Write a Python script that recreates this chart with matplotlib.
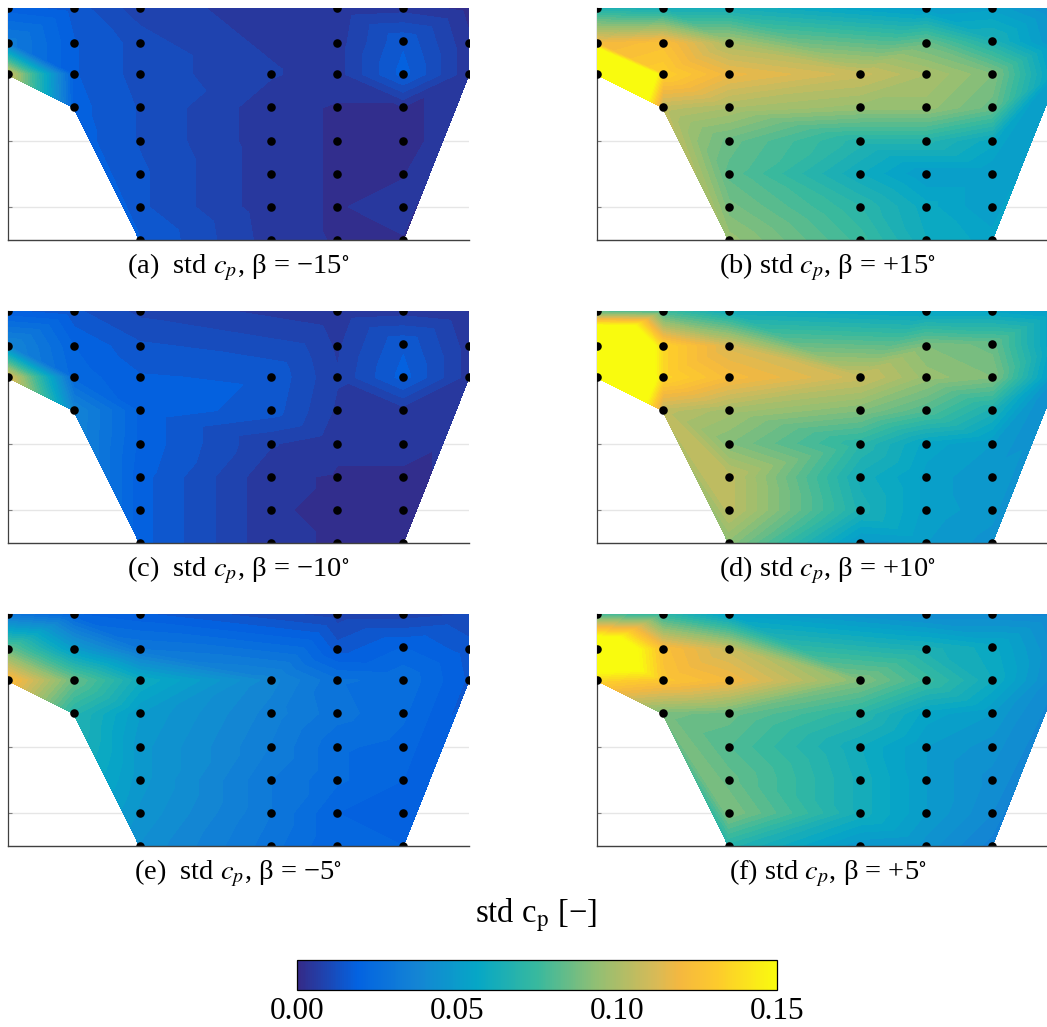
import numpy as np
import matplotlib
matplotlib.use("Agg")
import matplotlib.pyplot as plt
import matplotlib.tri as mtri
from matplotlib.path import Path
from matplotlib.colors import LinearSegmentedColormap, Normalize
from matplotlib.cm import ScalarMappable

W, H = 1047, 1027
plt.rcParams['font.family'] = ['Liberation Serif', 'DejaVu Serif']
plt.rcParams['mathtext.fontset'] = 'stix'

# sensor rows by column
col_x = [0, 1, 2, 4, 5, 6, 7]
col_y = [
    [7, 5.93, 5],
    [7, 5.93, 5, 4],
    [7, 5.93, 5, 4, 3, 2, 1, 0],
    [5, 4, 3, 2, 1, 0],
    [7, 5.93, 5, 4, 3, 2, 1, 0],
    [7, 6.0, 5, 4, 3, 2, 1, 0],
    [7, 5.93, 5],
]

std_a = [[.018, .032, .110], [.015, .017, .017, .018],
         [.008, .012, .012, .013, .013, .014, .014, .017],
         [.007, .0045, .0045, .0045, .0045, .005],
         [.004, .005, .005, .003, .003, .003, .003, .003],
         [.005, .016, .018, .003, .003, .003, .005, .003],
         [.002, .004, .004]]
std_b = [[.065, .120, .300], [.062, .125, .133, .105],
         [.062, .100, .118, .100, .085, .082, .088, .095],
         [.108, .095, .068, .060, .070, .075],
         [.050, .085, .100, .095, .068, .050, .058, .060],
         [.052, .065, .090, .085, .058, .050, .050, .055],
         [.042, .045, .050]]
std_c = [[.017, .038, .115], [.014, .020, .022, .037],
         [.009, .014, .017, .019, .019, .018, .018, .018],
         [.016, .015, .007, .004, .004, .004],
         [.004, .006, .007, .006, .004, .003, .002, .003],
         [.005, .016, .018, .005, .004, .003, .002, .002],
         [.003, .005, .005]]
std_d = [[.078, .250, .280], [.075, .135, .135, .105],
         [.060, .112, .122, .098, .090, .105, .105, .092],
         [.108, .090, .070, .062, .065, .048],
         [.055, .090, .095, .080, .055, .052, .052, .050],
         [.055, .085, .090, .065, .050, .047, .048, .045],
         [.050, .050, .045]]
std_e = [[.028, .085, .125], [.020, .050, .085, .068],
         [.017, .030, .060, .050, .048, .048, .046, .043],
         [.038, .035, .033, .030, .030, .028],
         [.008, .015, .027, .028, .024, .024, .020, .020],
         [.008, .020, .026, .024, .022, .020, .018, .020],
         [.010, .015, .016]]
std_f = [[.075, .190, .135], [.070, .125, .128, .088],
         [.052, .108, .120, .085, .080, .085, .090, .068],
         [.090, .070, .060, .062, .062, .047],
         [.040, .065, .075, .055, .050, .050, .050, .045],
         [.040, .058, .060, .050, .045, .042, .040, .035],
         [.038, .042, .040]]

outline_x = [0, 7, 7, 6, 2, 1, 0]
outline_y = [7, 7, 5, 0, 0, 4, 5]
notch_triangle = [(1, 4), (2, 1), (2, 0)]

captions = ["(a)  std $c_p$, β = −15$^{\\circ}$", "(b) std $c_p$, β = +15$^{\\circ}$",
            "(c)  std $c_p$, β = −10$^{\\circ}$", "(d) std $c_p$, β = +10$^{\\circ}$",
            "(e)  std $c_p$, β = −5$^{\\circ}$", "(f) std $c_p$, β = +5$^{\\circ}$"]
series = [std_a, std_b, std_c, std_d, std_e, std_f]
panel_left = [8, 597, 8, 597, 8, 597]
panel_top = [8, 8, 311, 311, 614, 614]
cmap_pos = [0, .125, .25, .375, .5, .625, .75, .80, .875, 1]
cmap_col = ["#352a87", "#0363e1", "#1485d4", "#06a7c6", "#38b99e",
            "#92bf73", "#d9ba56", "#f5b83f", "#fdca2d", "#f9fb0e"]
cbar_ticks = [0.0, 0.05, 0.10, 0.15]

cmap = LinearSegmentedColormap.from_list("parula", list(zip(cmap_pos, cmap_col)), N=256)
norm = Normalize(0, 0.15)
levels = np.linspace(0, 0.15, 46)

fig = plt.figure(figsize=(W / 100, H / 100), dpi=100)

X = np.array([x for x, ys in zip(col_x, col_y) for _ in ys], float)
Y = np.array([y for ys in col_y for y in ys], float)
base = mtri.Triangulation(X, Y)
outline = Path(np.column_stack([outline_x, outline_y]))
cx = X[base.triangles].mean(axis=1)
cy = Y[base.triangles].mean(axis=1)
keep = base.triangles[outline.contains_points(np.column_stack([cx, cy]))]
extra = [int(np.flatnonzero((X == px) & (Y == py))[0]) for px, py in notch_triangle]
tri = mtri.Triangulation(X, Y, np.vstack([keep, extra]))
dots = ~((X == 7) & (Y == 7))

AW, AH = 461, 232
for vals, cap, left, top in zip(series, captions, panel_left, panel_top):
    ax = fig.add_axes([left / W, 1 - (top + AH) / H, AW / W, AH / H])
    z = np.array([v for col in vals for v in col])
    ax.set_axisbelow(True)
    ax.set_xlim(0, 7)
    ax.set_ylim(0, 7)
    ax.yaxis.grid(True, color="#e6e6e6", lw=1.0)
    ax.set_yticks([1, 3, 5, 7])
    ax.set_xticks([])
    ax.set_yticklabels([])
    ax.tick_params(axis='y', direction='in', length=3, width=0.8, color="#808080")
    cs = ax.tricontourf(tri, z, levels=levels, cmap=cmap, norm=norm, extend='both', zorder=3)
    cs.set_edgecolor('face')
    cs.set_linewidth(0.3)
    ax.scatter(X[dots], Y[dots], s=38, c='k', linewidths=0, zorder=5)
    for s in ('top', 'right'):
        ax.spines[s].set_visible(False)
    ax.spines['left'].set_color("#404040")
    ax.spines['left'].set_linewidth(0.9)
    ax.spines['left'].set_zorder(1)
    ax.spines['bottom'].set_color("#404040")
    ax.spines['bottom'].set_linewidth(1.0)
    ax.spines['bottom'].set_zorder(6)
    fig.text((left + AW / 2) / W, 1 - (top + AH + 27) / H, cap, fontsize=20.5, ha='center', va='center')

fig.text(536 / W, 1 - 915 / H, "std c$_{\\mathrm{p}}$ [−]", fontsize=23.5, ha='center', va='center')

cax = fig.add_axes([297 / W, 1 - 990 / H, 480 / W, 30 / H])
cb = fig.colorbar(ScalarMappable(norm=norm, cmap=cmap), cax=cax, orientation='horizontal')
cb.set_ticks(cbar_ticks)
cb.set_ticklabels([f"{t:.2f}" for t in cbar_ticks])
cax.tick_params(length=0, labelsize=22.5, pad=5)
cb.outline.set_edgecolor('k')
cb.outline.set_linewidth(0.9)

fig.savefig("out.png", dpi=100)
